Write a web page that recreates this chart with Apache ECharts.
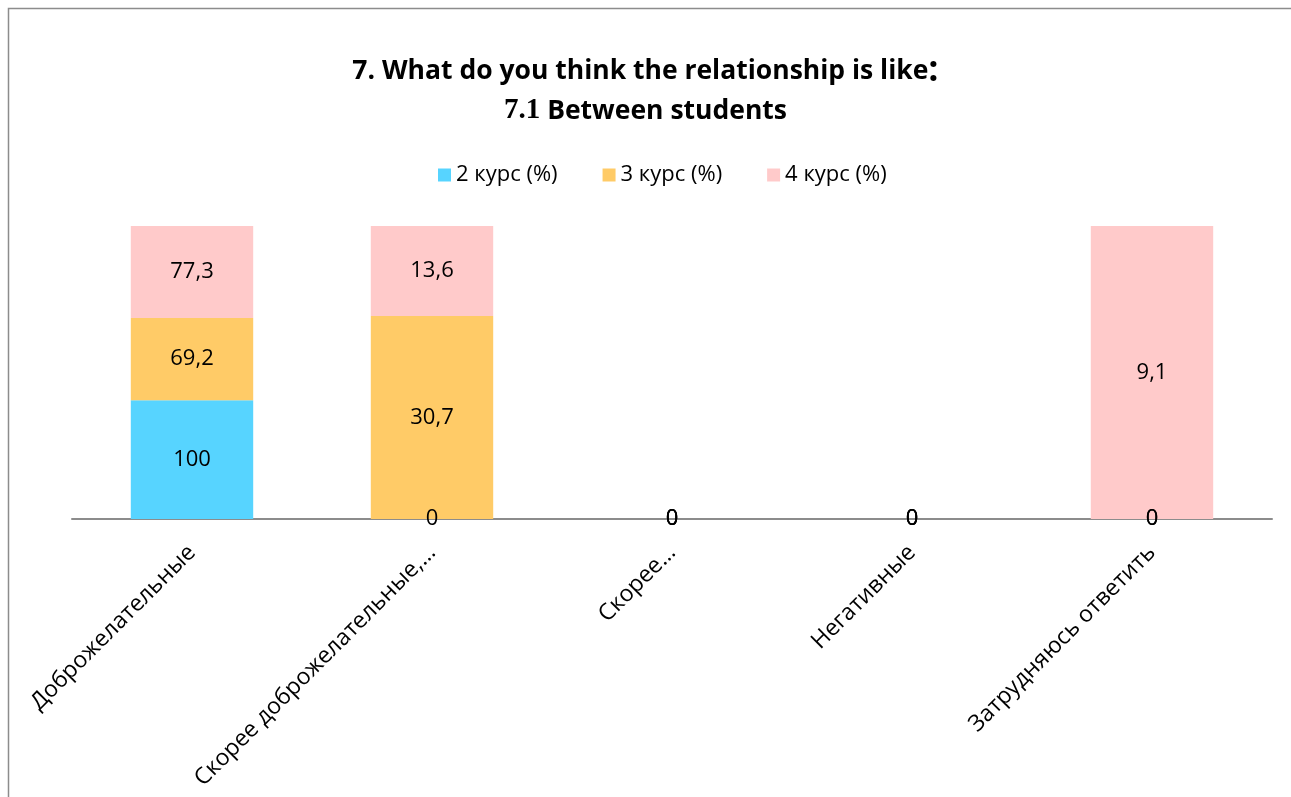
<!DOCTYPE html>
<html><head><meta charset="utf-8">
<script src="https://cdn.jsdelivr.net/npm/echarts@6/dist/echarts.min.js"></script>
<style>html,body{margin:0;padding:0;background:#fff}#c{width:1291px;height:797px}</style>
</head><body><div id="c"></div>
<script>
const categories = ['Доброжелательные', 'Скорее доброжелательные,…', 'Скорее…', 'Негативные', 'Затрудняюсь ответить'];
const seriesNames = ['2 курс (%)', '3 курс (%)', '4 курс (%)'];
const kurs2 = [100, 0, 0, 0, 0];
const kurs3 = [69.2, 30.7, 0, 0, 0];
const kurs4 = [77.3, 13.6, 0, 0, 9.1];
const colors = ['#57D4FF', '#FFCB67', '#FFCACA'];

const raw = [kurs2, kurs3, kurs4];
const totals = categories.map((_, i) => kurs2[i] + kurs3[i] + kurs4[i]);
const font = '"Open Sans", "Noto Sans", sans-serif';

const chart = echarts.init(document.getElementById('c'));
chart.setOption({
  animation: false,
  graphic: [{type: 'rect', shape: {x: 8.5, y: 8.5, width: 1400, height: 900}, style: {fill: 'none', stroke: '#8c8c8c', lineWidth: 1.5}}],
  title: {
    left: 'center', top: 46,
    text: '7. What do you think the relationship is like{c|:}\n{s|7.1} Between students',
    textStyle: {
      fontFamily: font, fontSize: 26.5, fontWeight: 'bold', color: '#000', lineHeight: 40,
      rich: {
        c: {fontFamily: font, fontSize: 36, fontWeight: 'bold', color: '#000', lineHeight: 40},
        s: {fontFamily: '"Liberation Serif", serif', fontSize: 29, fontWeight: 'bold', color: '#000', lineHeight: 40}
      }
    }
  },
  legend: {
    top: 159, left: 433, itemWidth: 13, itemHeight: 13, itemGap: 45, icon: 'rect',
    textStyle: {fontFamily: font, fontSize: 22, color: '#000'},
    data: seriesNames
  },
  grid: {left: 72, right: 19, top: 226, bottom: 278, containLabel: false},
  xAxis: {
    type: 'category', data: categories,
    axisLine: {lineStyle: {color: '#8c8c8c', width: 2}},
    axisTick: {show: false},
    axisLabel: {rotate: 45, interval: 0, margin: 30, fontFamily: font, fontSize: 23, color: '#000'}
  },
  yAxis: {type: 'value', min: 0, max: 100, show: false, splitLine: {show: false}},
  series: raw.map((arr, s) => ({
    name: seriesNames[s], type: 'bar', stack: 'total', barWidth: '51%',
    itemStyle: {color: colors[s]},
    data: arr.map((v, i) => totals[i] ? v / totals[i] * 100 : 0),
    label: {
      show: true, position: 'inside', color: '#000', fontFamily: font, fontSize: 22,
      textBorderWidth: 0,
      formatter: p => String(raw[s][p.dataIndex]).replace('.', ',')
    }
  }))
});
</script></body></html>
